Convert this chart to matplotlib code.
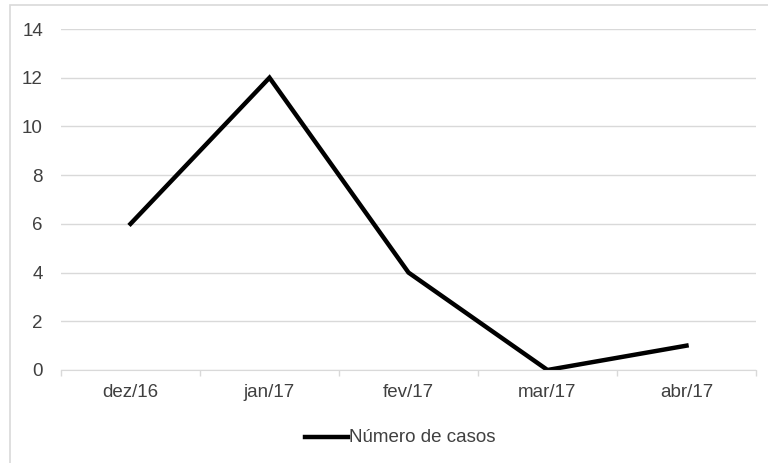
import matplotlib.pyplot as plt
from matplotlib.lines import Line2D

meses = ['dez/16', 'jan/17', 'fev/17', 'mar/17', 'abr/17']
casos = [6, 12, 4, 0, 1]
y_ticks = [0, 2, 4, 6, 8, 10, 12, 14]

plt.rcParams['font.family'] = ['Liberation Sans', 'DejaVu Sans']
fs = 13.5
txt = '#404040'

fig = plt.figure(figsize=(7.68, 4.63), dpi=100)
ax = fig.add_axes([61 / 768, 93 / 463, 695 / 768, 341 / 463])

ax.plot(range(len(meses)), casos, color='black', linewidth=3.2,
        solid_joinstyle='miter', label='Número de casos')

ax.set_xlim(-0.5, len(meses) - 0.5)
ax.set_ylim(0, 14)
ax.set_yticks(y_ticks)
ax.set_xticks(range(len(meses)))
ax.set_xticklabels(meses)
# tick marks sit between categories
ax.set_xticks([i - 0.5 for i in range(len(meses) + 1)], minor=True)
ax.tick_params(axis='x', which='major', length=0, pad=10, labelsize=fs, colors=txt)
ax.tick_params(axis='x', which='minor', length=4, color='#d9d9d9', width=1)
ax.tick_params(axis='y', length=0, pad=13, labelsize=fs, colors=txt)

ax.grid(axis='y', color='#d9d9d9', linewidth=1)
ax.set_axisbelow(True)
for s in ['top', 'right', 'left']:
    ax.spines[s].set_visible(False)
ax.spines['bottom'].set_color('#d9d9d9')

# legend drawn by hand: short line then label
fig.add_artist(Line2D([305 / 768, 348 / 768], [1 - 437 / 463] * 2,
                      color='black', linewidth=3.2, transform=fig.transFigure))
fig.text(349 / 768, 1 - 437 / 463, 'Número de casos', fontsize=fs,
         color=txt, va='center', ha='left')

# outer chart frame
fig.patches.append(plt.Rectangle((10 / 768, -0.05), 1.0, 1 - 5 / 463 + 0.05,
                                 transform=fig.transFigure, fill=False,
                                 edgecolor='#d9d9d9', linewidth=1.2))

plt.savefig('out.png', dpi=100)
